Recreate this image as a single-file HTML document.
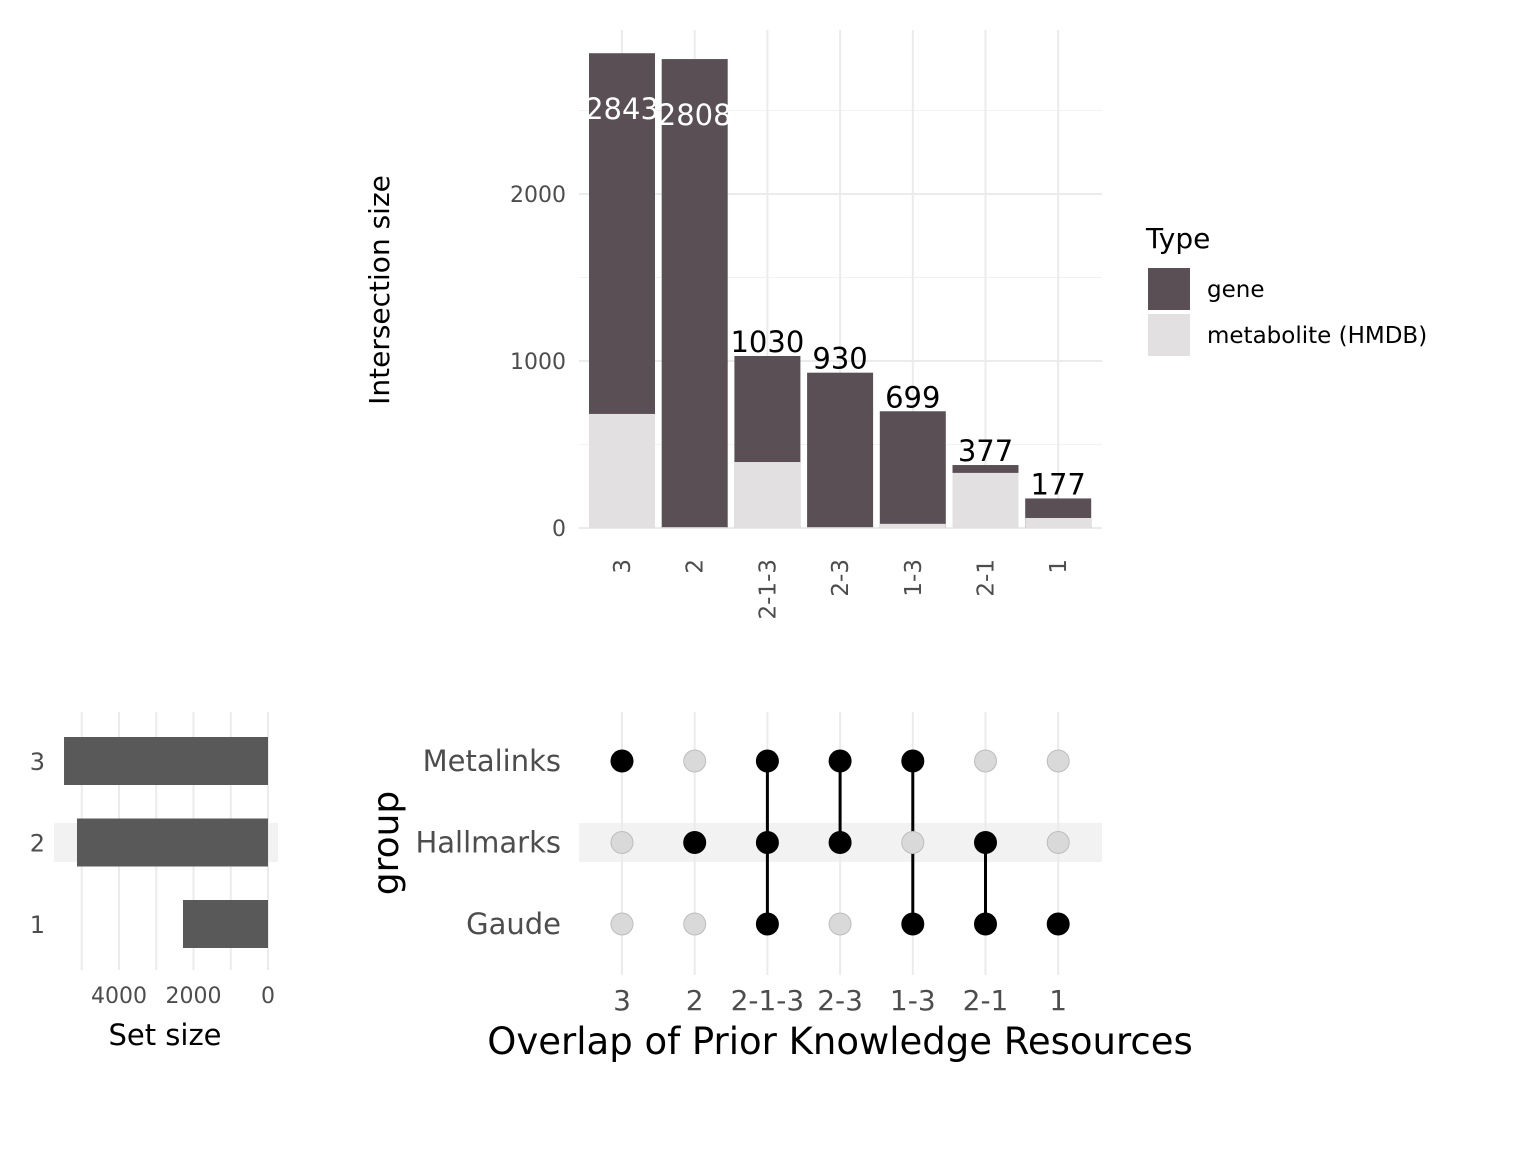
<!DOCTYPE html>
<html><head><meta charset="utf-8"><style>
body{margin:0;background:#fff}
svg text{font-family:"DejaVu Sans","Liberation Sans",sans-serif}
</style></head><body>
<svg id="c" width="1536" height="1152" xmlns="http://www.w3.org/2000/svg"></svg>
<script>
const categories=["3","2","2-1-3","2-3","1-3","2-1","1"];
const totals=[2843,2808,1030,930,699,377,177];
const metabolite=[683,5,395,5,25,330,60];
const yTicks=[0,1000,2000];
const setNames=["Metalinks","Hallmarks","Gaude"];
const setLabels=["3","2","1"];
const setSizes=[5476,5128,2282];
const setTicks=[4000,2000,0];
const membership=[[1,0,0],[0,1,0],[1,1,1],[1,1,0],[1,0,1],[0,1,1],[0,0,1]];

const svg=document.getElementById('c');const NS="http://www.w3.org/2000/svg";
function mk(t,a,p){const e=document.createElementNS(NS,t);for(const k in a)e.setAttribute(k,a[k]);(p||svg).appendChild(e);return e;}
const xc=i=>622+i*72.7;
const yv=v=>528-v*0.167;
const sx=v=>268-v*0.03725;
const rowY=i=>761+i*81.5;

for(let v=500;v<=2500;v+=1000)mk('line',{x1:579,x2:1102,y1:yv(v),y2:yv(v),stroke:'#f2f2f2','stroke-width':1});
yTicks.forEach(v=>{mk('line',{x1:579,x2:1102,y1:yv(v),y2:yv(v),stroke:'#ebebeb','stroke-width':2});
const t=mk('text',{x:566,y:yv(v)+8,'text-anchor':'end','font-size':22,fill:'#4d4d4d'});t.textContent=v;
});
categories.forEach((c,i)=>mk('line',{x1:xc(i),x2:xc(i),y1:30,y2:528,stroke:'#ebebeb','stroke-width':2}));
categories.forEach((c,i)=>{
const w=66,x=xc(i)-w/2;
const g=mk('rect',{x:x,y:yv(totals[i]),width:w,height:yv(0)-yv(totals[i]),fill:'#594f54'});

const m=mk('rect',{x:x,y:yv(metabolite[i]),width:w,height:yv(0)-yv(metabolite[i]),fill:'#e3e0e1'});

const inside=totals[i]>2500;
const l=mk('text',{x:xc(i),y:inside?yv(totals[i])+66:yv(totals[i])-4,'text-anchor':'middle','font-size':29,fill:inside?'#fff':'#000'});
l.textContent=totals[i];
const tl=mk('text',{transform:`translate(${xc(i)+8},559) rotate(-90)`,'text-anchor':'end','font-size':23,fill:'#4d4d4d'});
tl.textContent=c;
});
let t=mk('text',{transform:'translate(389,290) rotate(-90)','text-anchor':'middle','font-size':28,fill:'#000'});t.textContent='Intersection size';

t=mk('text',{x:1146,y:248,'font-size':28});t.textContent='Type';
mk('rect',{x:1148,y:268,width:42,height:42,fill:'#594f54'});
mk('rect',{x:1148,y:314,width:42,height:42,fill:'#e3e0e1'});
t=mk('text',{x:1207,y:297,'font-size':23});t.textContent='gene';
t=mk('text',{x:1207,y:343,'font-size':23});t.textContent='metabolite (HMDB)';

mk('rect',{x:54,y:823,width:224,height:39,fill:'#f2f2f2'});
for(let v=0;v<=5000;v+=1000)mk('line',{x1:sx(v),x2:sx(v),y1:712,y2:970,stroke:'#ebebeb','stroke-width':2});
setSizes.forEach((s,i)=>{const r=mk('rect',{x:sx(s),y:rowY(i)-24,width:sx(0)-sx(s),height:48,fill:'#595959'});

const l=mk('text',{x:45,y:rowY(i)+9,'text-anchor':'end','font-size':24,fill:'#4d4d4d'});l.textContent=setLabels[i];
});
setTicks.forEach(v=>{const l=mk('text',{x:sx(v),y:1003,'text-anchor':'middle','font-size':22,fill:'#4d4d4d'});l.textContent=v;
});
t=mk('text',{x:165,y:1045,'text-anchor':'middle','font-size':29});t.textContent='Set size';

mk('rect',{x:579,y:823,width:523,height:39,fill:'#f2f2f2'});
categories.forEach((c,i)=>mk('line',{x1:xc(i),x2:xc(i),y1:712,y2:975,stroke:'#ebebeb','stroke-width':2}));
setNames.forEach((n,j)=>{const l=mk('text',{x:561,y:rowY(j)+10,'text-anchor':'end','font-size':29,fill:'#4d4d4d'});l.textContent=n;
});
membership.forEach((m,i)=>{
const on=m.map((v,j)=>v?j:-1).filter(j=>j>=0);
if(on.length>1)mk('line',{x1:xc(i),x2:xc(i),y1:rowY(on[0]),y2:rowY(on[on.length-1]),stroke:'#000','stroke-width':3});
m.forEach((v,j)=>{const d=mk('circle',{cx:xc(i),cy:rowY(j),r:11,fill:v?'#000':'#d9d9d9',stroke:v?'#000':'#bdbdbd','stroke-width':1});
});
const l=mk('text',{x:xc(i),y:1010,'text-anchor':'middle','font-size':28,fill:'#4d4d4d'});l.textContent=categories[i];

});
t=mk('text',{transform:'translate(398,843) rotate(-90)','text-anchor':'middle','font-size':36});t.textContent='group';
t=mk('text',{x:840,y:1054,'text-anchor':'middle','font-size':37});t.textContent='Overlap of Prior Knowledge Resources';
</script></body></html>
